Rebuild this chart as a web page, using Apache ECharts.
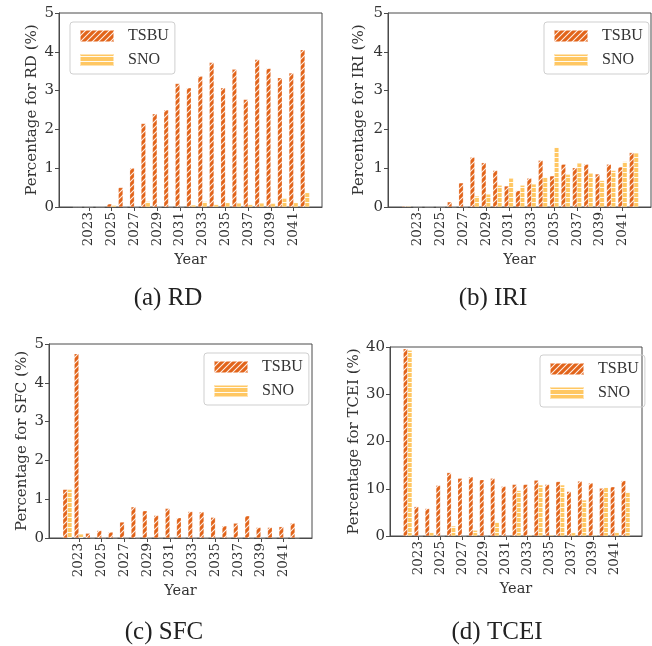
<!DOCTYPE html>
<html>
<head>
<meta charset="utf-8">
<script src="https://cdn.jsdelivr.net/npm/echarts@6/dist/echarts.min.js"></script>
<style>
html,body{margin:0;padding:0;background:#fff;}
#main{width:652px;height:646px;}
</style>
</head>
<body>
<div id="main"></div>
<script>
// ---- data ----
const years = [2022,2023,2024,2025,2026,2027,2028,2029,2030,2031,2032,2033,2034,2035,2036,2037,2038,2039,2040,2041,2042];
const tickYears = [2023,2025,2027,2029,2031,2033,2035,2037,2039,2041];
const seriesNames = ['TSBU','SNO'];

const rdTSBU  = [0,0,0,0.08,0.50,1.00,2.15,2.40,2.50,3.18,3.07,3.37,3.72,3.07,3.55,2.77,3.80,3.57,3.33,3.45,4.05];
const rdSNO   = [0,0,0,0.04,0,0,0.14,0,0,0,0.05,0.14,0.06,0.11,0.10,0.06,0.10,0.09,0.22,0.11,0.37];

const iriTSBU = [0.02,0,0,0,0.13,0.62,1.28,1.14,0.94,0.54,0.42,0.74,1.20,0.80,1.10,1.01,1.10,0.85,1.10,1.03,1.40];
const iriSNO  = [0.02,0,0,0,0,0,0.28,0.33,0.56,0.74,0.56,0.59,0.77,1.54,0.84,1.13,0.87,0.68,0.94,1.17,1.39];

const sfcTSBU = [1.25,4.75,0.12,0.19,0.15,0.41,0.80,0.70,0.58,0.76,0.52,0.68,0.67,0.53,0.31,0.38,0.57,0.27,0.27,0.29,0.38];
const sfcSNO  = [1.25,0.10,0,0,0,0,0,0,0,0,0,0,0,0,0,0,0,0,0,0,0];

const tceiTSBU = [39.6,6.2,5.8,10.7,13.4,12.2,12.5,11.9,12.2,10.5,10.9,10.9,11.8,10.9,11.5,9.4,11.6,11.2,10.1,10.4,11.7];
const tceiSNO  = [39.3,0,0.8,0,2.1,0,1.2,0,3.0,0,9.6,0.2,10.8,0.2,10.8,0.7,7.6,0.2,10.3,0.9,9.3];

const panels = [
  {name:'RD',   tsbu: rdTSBU,   sno: rdSNO,   yMax:5,  yInt:1,  caption:'(a) RD'},
  {name:'IRI',  tsbu: iriTSBU,  sno: iriSNO,  yMax:5,  yInt:1,  caption:'(b) IRI'},
  {name:'SFC',  tsbu: sfcTSBU,  sno: sfcSNO,  yMax:5,  yInt:1,  caption:'(c) SFC'},
  {name:'TCEI', tsbu: tceiTSBU, sno: tceiSNO, yMax:40, yInt:10, caption:'(d) TCEI'}
];

// ---- layout / style ----
const grids = [
  {left:59,  top:13,  width:263, height:194},
  {left:388, top:13,  width:263, height:194},
  {left:49,  top:344, width:263, height:194},
  {left:390, top:347, width:252, height:189}
];
const legendPos = [
  {left:70,  top:22},
  {left:544, top:22},
  {left:204, top:353},
  {left:540, top:355}
];
const yNameGap = [19, 21, 19, 28];
const captionPos = [[168,298],[493,298],[164,632],[497,632]];

const TSBU_COLOR = '#E2641A';
const SNO_COLOR = '#FFC762';

function diagPattern(){
  const c = document.createElement('canvas');
  c.width = 6; c.height = 6;
  const g = c.getContext('2d');
  g.fillStyle = TSBU_COLOR; g.fillRect(0,0,6,6);
  g.strokeStyle = 'rgba(255,255,255,0.9)'; g.lineWidth = 1.1;
  g.beginPath();
  g.moveTo(0,6); g.lineTo(6,0);
  g.moveTo(-3,3); g.lineTo(3,-3);
  g.moveTo(3,9); g.lineTo(9,3);
  g.stroke();
  return {image:c, repeat:'repeat'};
}
function horizPattern(){
  const c = document.createElement('canvas');
  c.width = 6; c.height = 5;
  const g = c.getContext('2d');
  g.fillStyle = SNO_COLOR; g.fillRect(0,0,6,5);
  g.fillStyle = 'rgba(255,255,255,0.9)'; g.fillRect(0,2,6,1);
  return {image:c, repeat:'repeat'};
}
const tsbuFill = diagPattern();
const snoFill = horizPattern();

const FONT = 'DejaVu Serif';
const AXIS_COLOR = '#4a4a4a';

const option = {
  animation:false,
  backgroundColor:'#fff',
  grid: grids.map(g => Object.assign({show:true, borderColor:AXIS_COLOR, borderWidth:1, backgroundColor:'transparent', containLabel:false}, g)),
  xAxis: panels.map((p,i) => ({
    type:'value', gridIndex:i, min:2020.38, max:2043.5,
    name:'Year', nameLocation:'middle', nameGap:46,
    nameTextStyle:{fontFamily:FONT, fontSize:14.5, color:'#333'},
    axisLine:{show:true, lineStyle:{color:AXIS_COLOR, width:1}},
    axisTick:{show:true, length:4, lineStyle:{color:AXIS_COLOR}, customValues:tickYears},
    axisLabel:{rotate:90, margin:5, fontFamily:FONT, fontSize:13.5, color:'#333', customValues:tickYears, formatter:v=>String(v)},
    splitLine:{show:false}
  })),
  yAxis: panels.map((p,i) => ({
    type:'value', gridIndex:i, min:0, max:p.yMax, interval:p.yInt,
    name:'Percentage for ' + p.name + ' (%)', nameLocation:'middle', nameGap: yNameGap[i],
    nameTextStyle:{fontFamily:FONT, fontSize:15, color:'#333'},
    axisLine:{show:true, lineStyle:{color:AXIS_COLOR, width:1}},
    axisTick:{show:true, length:4, lineStyle:{color:AXIS_COLOR}},
    axisLabel:{margin:5, fontFamily:FONT, fontSize:15, color:'#333'},
    splitLine:{show:false}
  })),
  legend: panels.map((p,i) => ({
    left:legendPos[i].left, top:legendPos[i].top,
    orient:'vertical',
    data:seriesNames.map(n => ({name:n+'\u200b'.repeat(i)})),
    formatter: n => n.replace(/\u200b/g,''),
    icon:'rect', itemWidth:34, itemHeight:12, itemGap:8,
    padding:[6,6,6,9],
    borderColor:'#cfcfcf', borderWidth:1, borderRadius:3,
    textStyle:{fontFamily:'Liberation Serif', fontSize:16, color:'#333', padding:[0,0,0,9]}
  })),
  series: [],
  graphic: panels.map((p,i) => ({
    type:'text', x:captionPos[i][0], y:captionPos[i][1],
    style:{text:p.caption, font:'25px "Liberation Serif"', fill:'#222', textAlign:'center', textVerticalAlign:'middle'}
  }))
};

panels.forEach((p,i) => {
  const suffix = '\u200b'.repeat(i);
  option.series.push({
    type:'bar', name:'TSBU'+suffix, xAxisIndex:i, yAxisIndex:i,
    data: years.map((y,k) => [y, p.tsbu[k]]),
    barWidth:'40%', barGap:'0%',
    itemStyle:{color:tsbuFill, borderColor:'rgba(255,255,255,0.5)', borderWidth:0.4}
  });
  option.series.push({
    type:'bar', name:'SNO'+suffix, xAxisIndex:i, yAxisIndex:i,
    data: years.map((y,k) => [y, p.sno[k]]),
    barWidth:'40%', barGap:'0%',
    itemStyle:{color:snoFill, borderColor:'rgba(255,255,255,0.5)', borderWidth:0.4}
  });
});

const chart = echarts.init(document.getElementById('main'), null, {renderer:'canvas'});
chart.setOption(option);
</script>
</body>
</html>
